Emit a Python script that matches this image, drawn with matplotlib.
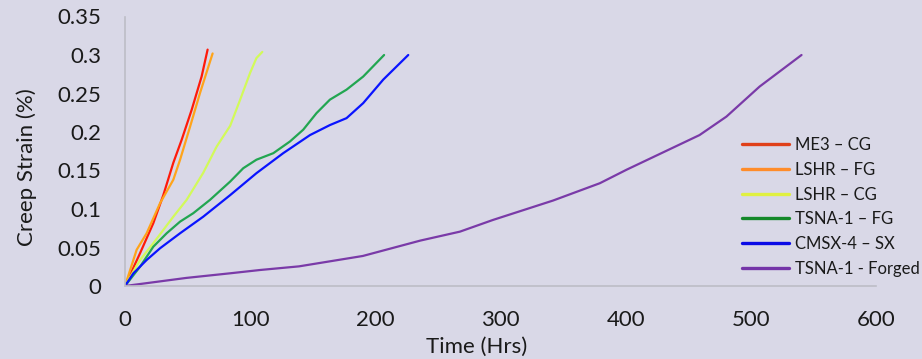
import matplotlib.pyplot as plt

# creep curves (hours, % strain)
me3_cg_x = [0, 12, 22.6, 30.6, 38.6, 45.3, 53.3, 61.2, 66]
me3_cg_y = [0, 0.0425, 0.0815, 0.118, 0.16, 0.19, 0.229, 0.272, 0.307]

lshr_fg_x = [0, 9.3, 17.3, 28, 38.6, 44, 52, 60, 70]
lshr_fg_y = [0, 0.047, 0.0685, 0.1075, 0.138, 0.164, 0.207, 0.251, 0.302]

lshr_cg_x = [0, 12, 22.6, 38.6, 49.3, 62.5, 73.2, 84, 92, 100, 105, 109.7]
lshr_cg_y = [0, 0.0338, 0.0555, 0.09, 0.112, 0.147, 0.181, 0.208, 0.242, 0.277, 0.296, 0.304]

tsna_fg_x = [0, 12, 22.6, 33.3, 44, 54.5, 68, 84, 94.5, 105, 118.5, 131.8, 142.4,
             153, 163.7, 177, 190.3, 207]
tsna_fg_y = [0, 0.025, 0.051, 0.0685, 0.0836, 0.0945, 0.112, 0.1356, 0.153, 0.164,
             0.1725, 0.1877, 0.203, 0.2245, 0.242, 0.255, 0.272, 0.3]

cmsx_x = [0, 6.7, 17.3, 28, 44, 62.5, 84, 105, 126.4, 147.8, 163.7, 177, 190.3, 206.3, 226.3]
cmsx_y = [0, 0.0165, 0.0338, 0.049, 0.0685, 0.09, 0.118, 0.1465, 0.1725, 0.196, 0.209,
          0.218, 0.2375, 0.268, 0.3]

tsna_forged_x = [0, 49, 84, 108, 139, 190, 236, 267.6, 294, 342, 379.4, 400.7, 459, 480.5, 507, 540.5]
tsna_forged_y = [0, 0.0105, 0.0165, 0.0208, 0.0255, 0.039, 0.059, 0.0706, 0.0858, 0.111, 0.1335,
                 0.151, 0.196, 0.22, 0.259, 0.3]

series = [
    ('ME3 – CG', me3_cg_x, me3_cg_y, '#ff1a0a', '#e0401a'),
    ('LSHR – FG', lshr_fg_x, lshr_fg_y, '#ffa41a', '#ff8c2a'),
    ('LSHR – CG', lshr_cg_x, lshr_cg_y, '#d2fa5a', '#e0f040'),
    ('TSNA-1 – FG', tsna_fg_x, tsna_fg_y, '#22a651', '#14882a'),
    ('CMSX-4 – SX', cmsx_x, cmsx_y, '#0a14ff', '#0a0ae6'),
    ('TSNA-1 - Forged', tsna_forged_x, tsna_forged_y, '#7a3aa8', '#7434a8'),
]

plt.rcParams['font.family'] = ['Lato', 'DejaVu Sans']

bg = '#d9d8e7'
txt = '#1a1a1a'
fig = plt.figure(figsize=(9.22, 3.59), dpi=100, facecolor=bg)
ax = fig.add_axes([125/922, 1-286/359, 751/922, 269.5/359])
ax.set_facecolor(bg)

for label, x, y, c, lc in series:
    ax.plot(x, y, color=c, lw=1.6, label=label, solid_capstyle='round')

ax.set_xlim(0, 600)
ax.set_ylim(0, 0.35)
ax.set_xticks([0, 100, 200, 300, 400, 500, 600])
ax.set_yticks([0, 0.05, 0.1, 0.15, 0.2, 0.25, 0.3, 0.35])
ax.set_yticklabels(['0', '0.05', '0.1', '0.15', '0.2', '0.25', '0.3', '0.35'])
ax.tick_params(length=0, labelsize=16, colors=txt)
ax.tick_params(axis='x', pad=17)
ax.tick_params(axis='y', pad=17)

for s in ['top', 'right']:
    ax.spines[s].set_visible(False)
for s in ['left', 'bottom']:
    ax.spines[s].set_color('#bdbdc6')
    ax.spines[s].set_linewidth(1.2)

ax.set_xlabel('Time (Hrs)', fontsize=16, color=txt, va='center')
ax.xaxis.set_label_coords(0.468, -0.225)
ax.set_ylabel('Creep Strain (%)', fontsize=16, color=txt, va='center')
ax.yaxis.set_label_coords(-0.131, 0.4415)

leg = ax.legend(loc='upper left', bbox_to_anchor=(742/922, 1-137/359),
                bbox_transform=fig.transFigure, frameon=False, fontsize=12,
                handlelength=2.82, handletextpad=0.36, labelspacing=0.525,
                borderpad=0, borderaxespad=0)
for h, s in zip(leg.get_lines(), series):
    h.set_linewidth(2.4)
    h.set_color(s[4])
for t in leg.get_texts():
    t.set_color(txt)

fig.savefig('out.png', dpi=100, facecolor=bg)
